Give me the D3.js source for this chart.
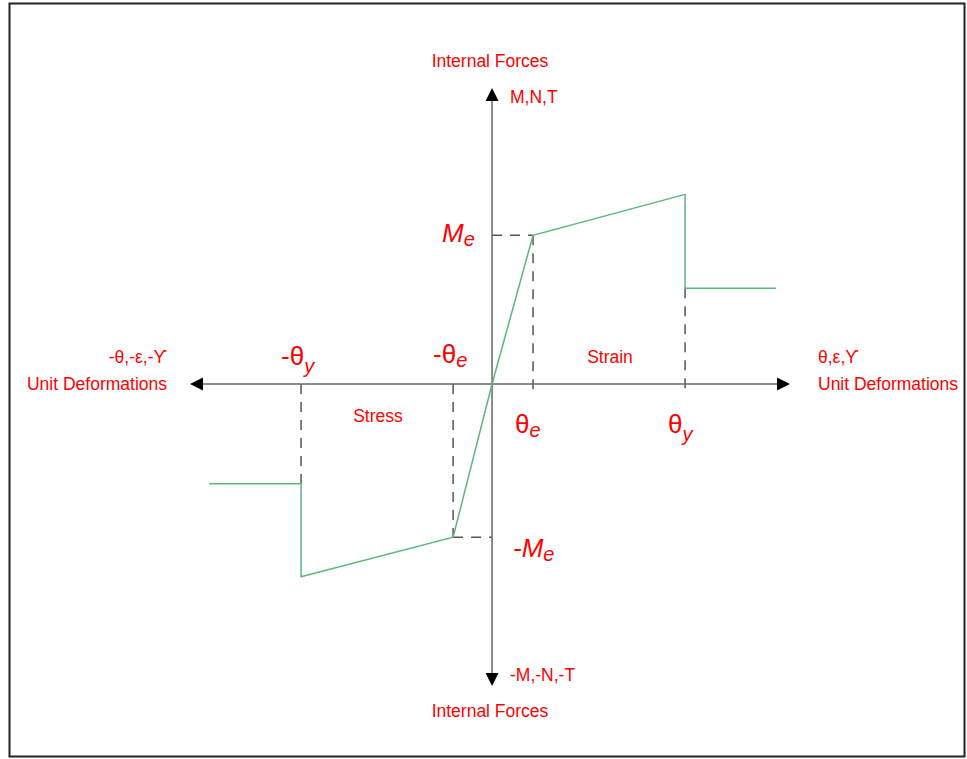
<!DOCTYPE html>
<html>
<head>
<meta charset="utf-8">
<script src="https://cdn.jsdelivr.net/npm/d3@7"></script>
<style>
  body { margin: 0; background: #fff; }
  text { font-family: "Liberation Sans", Arial, sans-serif; fill: #ff0000; }
</style>
</head>
<body>
<div id="chart"></div>
<script>
// Chart values (deformation units: thetaE = 1, force units: Me = 1)
const posX = [0, 1, 4.71, 4.71, 6.93];
const posY = [0, 1, 1.275, 0.644, 0.644];
const negX = [0, -0.95, -4.66, -4.66, -6.90];
const negY = [0, -1.03, -1.295, -0.67, -0.67];
const thetaE = 1, thetaY = 4.71, negThetaE = -0.95, negThetaY = -4.66;
const Me = 1, negMe = -1.03;

const width = 967;
const height = 759;

const svg = d3.select("#chart")
    .append("svg")
    .attr("width", width)
    .attr("height", height);

// Frame
svg.append("rect")
    .attr("x", 9.5).attr("y", 3.5)
    .attr("width", 955).attr("height", 753)
    .attr("fill", "none")
    .attr("stroke", "#222")
    .attr("stroke-width", 2);

// Scales
const x = d3.scaleLinear().domain([-7.37, 7.27]).range([190, 790]);
const y = d3.scaleLinear().domain([-2.03, 1.99]).range([686, 88]);

// Dashed guides
const guides = [
    [[0, Me], [thetaE, Me]],
    [[thetaE, Me], [thetaE, -0.05]],
    [[thetaY, posY[3]], [thetaY, -0.05]],
    [[negThetaY, 0], [negThetaY, negY[3]]],
    [[negThetaE, 0], [negThetaE, negMe]],
    [[negThetaE, negMe], [0, negMe]]
];
svg.selectAll(".guide")
    .data(guides)
    .enter().append("path")
    .attr("class", "guide")
    .attr("d", d3.line().x(d => x(d[0])).y(d => y(d[1])))
    .attr("fill", "none")
    .attr("stroke", "#555")
    .attr("stroke-width", 1.5)
    .attr("stroke-dasharray", "10,8");

// Axes
const axisColor = "#666";
svg.append("line")
    .attr("x1", x(-7.37) + 10).attr("x2", x(7.27) - 10)
    .attr("y1", y(0)).attr("y2", y(0))
    .attr("stroke", axisColor).attr("stroke-width", 1.5);
svg.append("line")
    .attr("x1", x(0)).attr("x2", x(0))
    .attr("y1", y(1.99) + 10).attr("y2", y(-2.03) - 10)
    .attr("stroke", axisColor).attr("stroke-width", 1.5);

// Arrowheads
function arrow(tx, ty, dir) {
    const L = 13, W = 6.5;
    let pts;
    if (dir === "right") pts = [[tx, ty], [tx - L, ty - W], [tx - L, ty + W]];
    if (dir === "left") pts = [[tx, ty], [tx + L, ty - W], [tx + L, ty + W]];
    if (dir === "up") pts = [[tx, ty], [tx - W, ty + L], [tx + W, ty + L]];
    if (dir === "down") pts = [[tx, ty], [tx - W, ty - L], [tx + W, ty - L]];
    svg.append("polygon")
        .attr("points", pts.map(p => p.join(",")).join(" "))
        .attr("fill", "#000");
}
arrow(x(7.27), y(0), "right");
arrow(x(-7.37), y(0), "left");
arrow(x(0), y(1.99), "up");
arrow(x(0), y(-2.03), "down");

// Curves
const line = d3.line().x(d => x(d[0])).y(d => y(d[1]));
[d3.zip(posX, posY), d3.zip(negX, negY)].forEach(pts => {
    svg.append("path")
        .attr("d", line(pts))
        .attr("fill", "none")
        .attr("stroke", "#5cb87a")
        .attr("stroke-width", 1.5);
});

// Plain labels
function label(tx, ty, str, anchor, size) {
    svg.append("text")
        .attr("x", tx).attr("y", ty)
        .attr("text-anchor", anchor || "start")
        .style("font-size", (size || 17.5) + "px")
        .text(str);
}
label(490, 67, "Internal Forces", "middle");
label(510, 103, "M,N,T");
label(510, 681, "-M,-N,-T");
label(490, 717, "Internal Forces", "middle");
label(167, 363, "-θ,-ε,-ϒ", "end");
label(167, 390, "Unit Deformations", "end");
label(818, 363, "θ,ε,ϒ");
label(818, 390, "Unit Deformations");
label(378, 422, "Stress", "middle");
label(610, 363, "Strain", "middle");

// Symbol labels with subscripts
function symbol(tx, ty, main, sub, italicMain, anchor, subDy) {
    const t = svg.append("text")
        .attr("x", tx).attr("y", ty)
        .attr("text-anchor", anchor || "start")
        .style("font-size", "26px");
    t.append("tspan")
        .style("font-style", italicMain ? "italic" : "normal")
        .text(main);
    t.append("tspan")
        .attr("dy", subDy)
        .style("font-size", "20px")
        .style("font-style", "italic")
        .text(sub);
}
symbol(281, 365, "-θ", "y", false, "start", 8);
symbol(433, 363, "-θ", "e", false, "start", 4);
symbol(515, 433, "θ", "e", false, "start", 4);
symbol(668, 433, "θ", "y", false, "start", 8);
symbol(442, 242, "M", "e", true, "start", 4);
symbol(513, 557, "-M", "e", true, "start", 4);
</script>
</body>
</html>
